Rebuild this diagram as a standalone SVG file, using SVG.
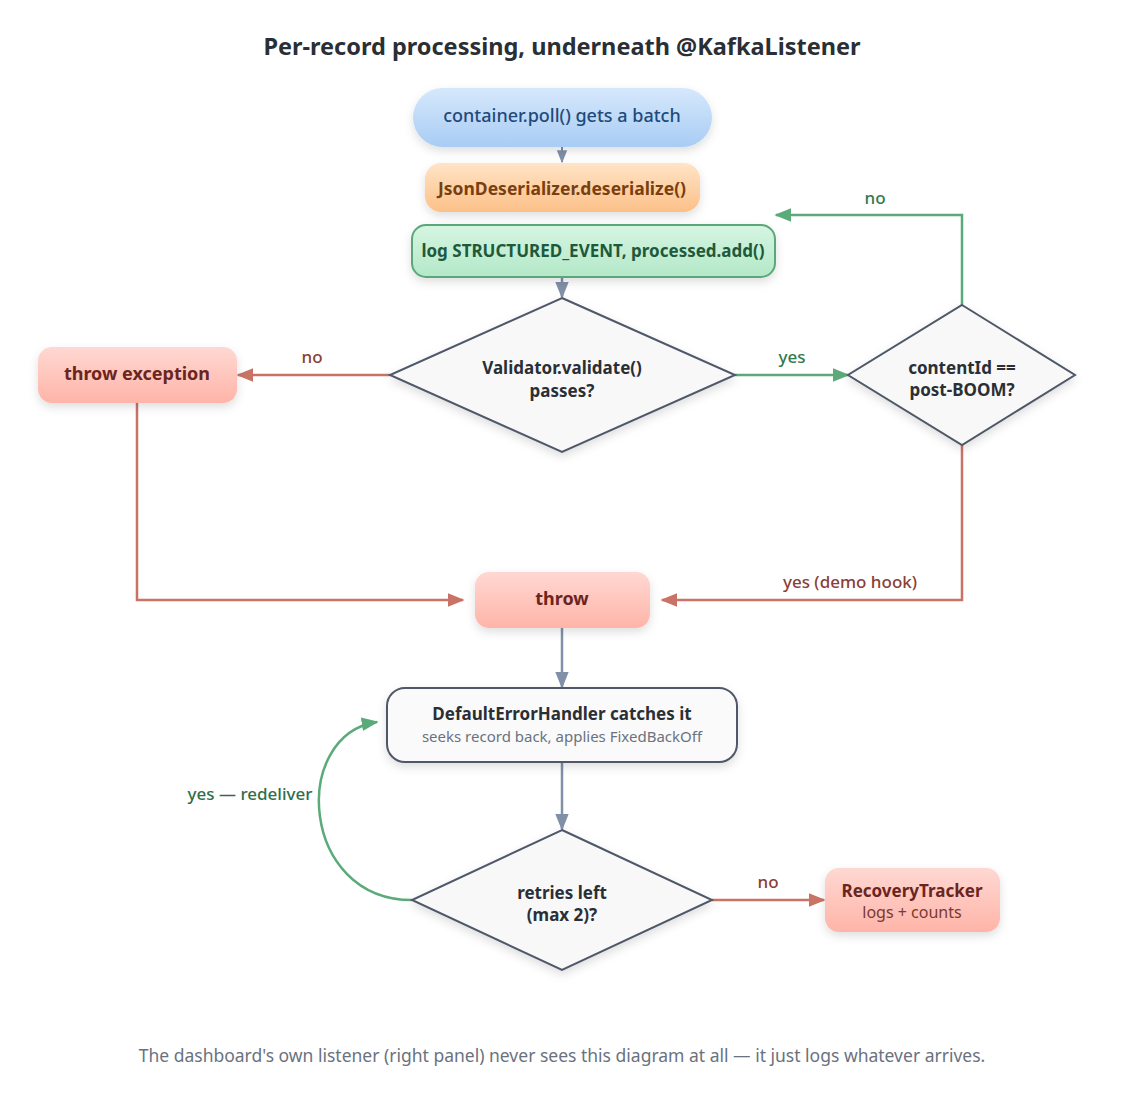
<svg xmlns="http://www.w3.org/2000/svg" width="1125" height="1100" viewBox="0 0 1125 1100">
<defs>
<style>
text{font-family:"Noto Sans","Open Sans","Liberation Sans",sans-serif;text-anchor:middle}
.t{font-size:17px;font-weight:700;fill:#2a2f36}
.lbl{font-size:17px;font-weight:500}
.dia{fill:#f8f8f8;stroke:#4f5868;stroke-width:2}
.gray{fill:none;stroke:#8090a8;stroke-width:2.5}
.red{fill:none;stroke:#c87366;stroke-width:2.5}
.grn{fill:none;stroke:#5aaa7a;stroke-width:2.5}
</style>
<linearGradient id="gBlue" x1="0" y1="0" x2="0" y2="1"><stop offset="0" stop-color="#d6e8fc"/><stop offset="1" stop-color="#a8ccf4"/></linearGradient>
<linearGradient id="gOrange" x1="0" y1="0" x2="0" y2="1"><stop offset="0" stop-color="#ffe4c6"/><stop offset="1" stop-color="#fcc088"/></linearGradient>
<linearGradient id="gGreen" x1="0" y1="0" x2="0" y2="1"><stop offset="0" stop-color="#d6f5e2"/><stop offset="1" stop-color="#b3e8c8"/></linearGradient>
<linearGradient id="gRed" x1="0" y1="0" x2="0" y2="1"><stop offset="0" stop-color="#ffd8d2"/><stop offset="1" stop-color="#ffb4a8"/></linearGradient>
<filter id="sh" x="-20%" y="-30%" width="140%" height="170%"><feDropShadow dx="0" dy="4" stdDeviation="5" flood-color="#000" flood-opacity="0.13"/></filter>
<marker id="aGray" viewBox="0 0 10 10" refX="9" refY="5" markerWidth="13" markerHeight="13" orient="auto" markerUnits="userSpaceOnUse"><path d="M0,1L10,5L0,9z" fill="#8090a8"/></marker>
<marker id="aGrayL" viewBox="0 0 10 10" refX="9" refY="5" markerWidth="17" markerHeight="17" orient="auto" markerUnits="userSpaceOnUse"><path d="M0,1L10,5L0,9z" fill="#8090a8"/></marker>
<marker id="aRed" viewBox="0 0 10 10" refX="9" refY="5" markerWidth="17" markerHeight="17" orient="auto" markerUnits="userSpaceOnUse"><path d="M0,1L10,5L0,9z" fill="#c87366"/></marker>
<marker id="aGrn" viewBox="0 0 10 10" refX="9" refY="5" markerWidth="17" markerHeight="17" orient="auto" markerUnits="userSpaceOnUse"><path d="M0,1L10,5L0,9z" fill="#5aaa7a"/></marker>
</defs>
<rect width="1125" height="1100" fill="#ffffff"/>
<text x="562" y="55" style="font-size:23.5px;font-weight:700;fill:#2a2f36">Per-record processing, underneath @KafkaListener</text>

<g id="connectors">
<line class="gray" x1="562" y1="147" x2="562" y2="162" marker-end="url(#aGray)" style="stroke-width:2"/>
<line class="gray" x1="562" y1="277" x2="562" y2="297" marker-end="url(#aGrayL)"/>
<line class="red" x1="390" y1="375" x2="238" y2="375" marker-end="url(#aRed)"/>
<text class="lbl" x="312" y="363" fill="#8a4035">no</text>
<line class="grn" x1="735" y1="375" x2="848" y2="375" marker-end="url(#aGrn)"/>
<text class="lbl" x="792" y="363" fill="#2f7a4e">yes</text>
<polyline class="grn" points="962,305 962,215 776,215" marker-end="url(#aGrn)"/>
<text class="lbl" x="875" y="204" fill="#2f7a4e">no</text>
<polyline class="red" points="962,445 962,600 662,600" marker-end="url(#aRed)"/>
<text class="lbl" x="850" y="588" fill="#8a4035">yes (demo hook)</text>
<polyline class="red" points="137,403 137,600 463,600" marker-end="url(#aRed)"/>
<line class="gray" x1="562" y1="628" x2="562" y2="687" marker-end="url(#aGrayL)"/>
<line class="gray" x1="562" y1="762" x2="562" y2="829" marker-end="url(#aGrayL)"/>
<line class="red" x1="712" y1="900" x2="824" y2="900" marker-end="url(#aRed)"/>
<text class="lbl" x="768" y="888" fill="#8a4035">no</text>
<path class="grn" d="M412,900 C300,900 290,735 377,722" marker-end="url(#aGrn)"/>
<text class="lbl" x="250" y="800" fill="#2f6e4a">yes — redeliver</text>
</g>

<g id="n-poll">
<rect x="413" y="88" width="299" height="59" rx="29.5" fill="url(#gBlue)" filter="url(#sh)"/>
<text x="562" y="122" style="font-size:18px;font-weight:500;fill:#1f4a7a">container.poll() gets a batch</text>
</g>
<g id="n-deser">
<rect x="425" y="163" width="275" height="49" rx="16" fill="url(#gOrange)" filter="url(#sh)"/>
<text x="562" y="195" style="font-size:17.5px;font-weight:700;fill:#7a3f0f">JsonDeserializer.deserialize()</text>
</g>
<g id="n-log">
<rect x="412" y="225" width="363" height="52" rx="14" fill="url(#gGreen)" stroke="#5aa87a" stroke-width="2" filter="url(#sh)"/>
<text x="593" y="257" style="font-size:17px;font-weight:700;fill:#1e5a3a">log STRUCTURED_EVENT, processed.add()</text>
</g>
<g id="n-validate">
<polygon class="dia" points="562,298 735,375 562,452 390,375" filter="url(#sh)"/>
<text class="t" x="562" y="374">Validator.validate()</text>
<text class="t" x="562" y="397">passes?</text>
</g>
<g id="n-throwex">
<rect x="38" y="347" width="199" height="56" rx="14" fill="url(#gRed)" filter="url(#sh)"/>
<text x="137" y="380" style="font-size:18px;font-weight:700;fill:#6b2520">throw exception</text>
</g>
<g id="n-content">
<polygon class="dia" points="962,305 1075,375 962,445 848,375" filter="url(#sh)"/>
<text class="t" x="962" y="374">contentId ==</text>
<text class="t" x="962" y="396">post-BOOM?</text>
</g>
<g id="n-throw">
<rect x="475" y="572" width="175" height="56" rx="14" fill="url(#gRed)" filter="url(#sh)"/>
<text x="562" y="605" style="font-size:18px;font-weight:700;fill:#6b2520">throw</text>
</g>
<g id="n-handler">
<rect x="387" y="688" width="350" height="74" rx="18" fill="#fafafa" stroke="#4f5868" stroke-width="2" filter="url(#sh)"/>
<text class="t" x="562" y="720">DefaultErrorHandler catches it</text>
<text x="562" y="742" style="font-size:15px;fill:#6a7280">seeks record back, applies FixedBackOff</text>
</g>
<g id="n-retries">
<polygon class="dia" points="562,830 712,900 562,970 412,900" filter="url(#sh)"/>
<text class="t" x="562" y="899">retries left</text>
<text class="t" x="562" y="921">(max 2)?</text>
</g>
<g id="n-recovery">
<rect x="825" y="868" width="175" height="64" rx="14" fill="url(#gRed)" filter="url(#sh)"/>
<text x="912" y="897" style="font-size:17px;font-weight:700;fill:#6b2520">RecoveryTracker</text>
<text x="912" y="918" style="font-size:16px;fill:#7a3a30">logs + counts</text>
</g>
<text x="562" y="1062" style="font-size:17.5px;fill:#6a7280">The dashboard's own listener (right panel) never sees this diagram at all — it just logs whatever arrives.</text>
</svg>
